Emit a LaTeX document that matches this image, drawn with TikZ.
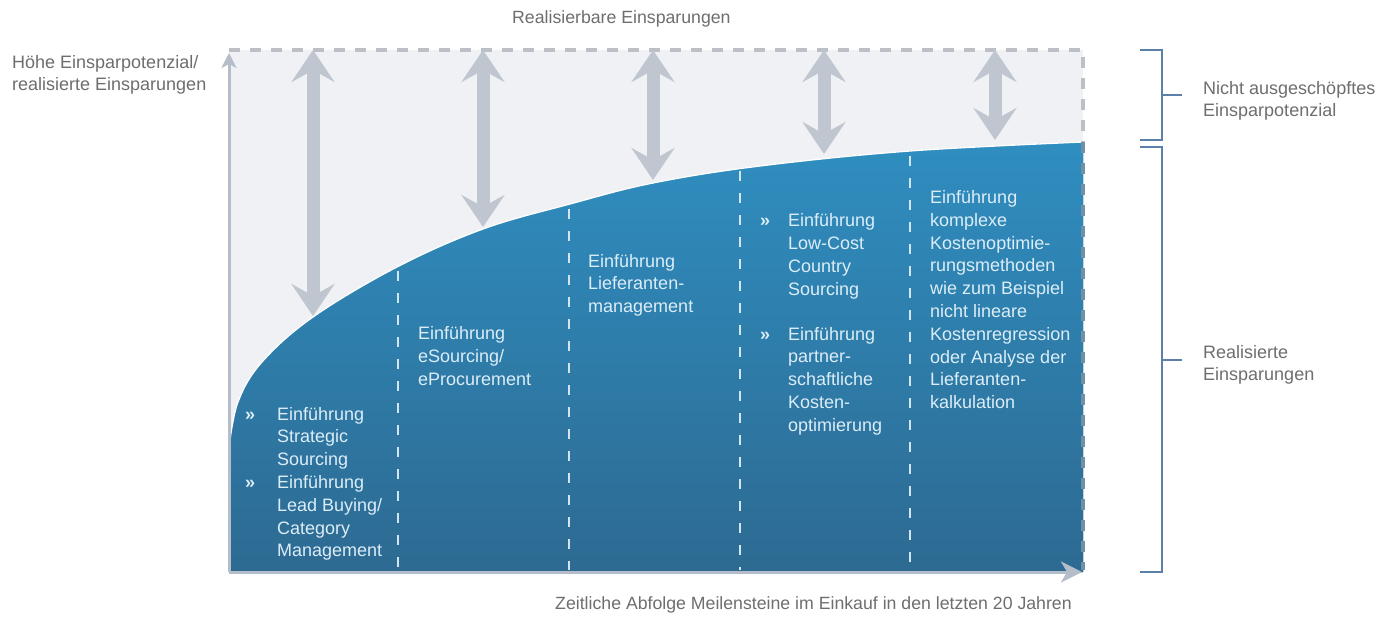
\documentclass[tikz,border=0pt]{standalone}
\usepackage{fontspec}
\setmainfont{Liberation Sans}
\usetikzlibrary{arrows.meta}

\definecolor{panel}{HTML}{EFF1F4}
\definecolor{frame}{HTML}{BCC0C6}
\definecolor{bigarr}{HTML}{C0C6D0}
\definecolor{axis}{HTML}{B4BDC9}
\definecolor{bluetop}{HTML}{2F8EC0}
\definecolor{bluebot}{HTML}{2D6A92}
\definecolor{sep}{HTML}{D2E5F1}
\definecolor{intext}{HTML}{DCEDF7}
\definecolor{label}{HTML}{6E6E6E}
\definecolor{brace}{HTML}{5B81AA}

% points of the savings curve (x to the right, y downwards, in px)
\def\curvepts{(229,448) (238,402) (262,362) (313,317) (397,267) (483,229)
  (570,204) (653,183) (760,166) (910,151) (1083,142)}

\begin{document}
\begin{tikzpicture}[x=1pt,y=-1pt,
  lbl/.style={font=\fontsize{18}{22}\selectfont, text=label, inner sep=0pt,
    align=left, anchor=north west},
  intxt/.style={font=\fontsize{18}{22.8}\selectfont, text=intext, inner sep=0pt,
    align=left, anchor=north west},
  bul/.style={font=\fontsize{18}{22.8}\selectfont\bfseries, text=intext,
    inner sep=0pt, anchor=base west},
  framedash/.style={draw=frame, line width=3.5pt, dash pattern=on 11pt off 10pt},
  sepline/.style={draw=sep, line width=2.5pt, dash pattern=on 10pt off 12pt},
  bigarrow/.style={draw=bigarr, line width=13pt,
    >={Stealth[length=32pt,width=43pt,inset=12pt]}, <->},
  axisarrow/.style={draw=axis, line width=3pt},
  bracket/.style={draw=brace, line width=1.6pt}
]
\useasboundingbox (0,0) rectangle (1387,618);
\fill[white] (0,0) rectangle (1387,618);

% light panel of the total potential
\fill[panel] (229,50) rectangle (1083,572);

% realised savings area under the curve
\fill[top color=bluetop, bottom color=bluebot]
  (229,572) -- plot[smooth, tension=0.6] coordinates {\curvepts}
  -- (1083,572) -- cycle;
\draw[white, line width=1.3pt] plot[smooth, tension=0.6] coordinates {\curvepts};

% milestone separators
\draw[sepline] (398,271) -- (398,570);
\draw[sepline] (569,209) -- (569,570);
\draw[sepline] (740,171) -- (740,570);
\draw[sepline] (910,156) -- (910,570);

% dashed frame of the achievable savings
\draw[framedash] (229,50) -- (1083,50) -- (1083,142);
\draw[framedash, draw=frame!45!bluebot] (1083,142) -- (1083,570);

% double arrows: gap between potential and realised savings
\coordinate (a1t) at (313,50);  \coordinate (a1b) at (313,316);
\coordinate (a2t) at (483,50);  \coordinate (a2b) at (483,227);
\coordinate (a3t) at (653,50);  \coordinate (a3b) at (653,180);
\coordinate (a4t) at (824,50);  \coordinate (a4b) at (824,154);
\coordinate (a5t) at (995,50);  \coordinate (a5b) at (995,140);
\draw[bigarrow] (a1t) -- (a1b);
\draw[bigarrow] (a2t) -- (a2b);
\draw[bigarrow] (a3t) -- (a3b);
\draw[bigarrow] (a4t) -- (a4b);
\draw[bigarrow] (a5t) -- (a5b);

% axes
\coordinate (O) at (229,572);
\coordinate (Ytop) at (229,53);
\coordinate (Xend) at (1082,572);
\draw[axisarrow, -{Stealth[length=15pt,width=15pt,inset=4pt]}] (O) -- (Ytop);
\draw[axisarrow, -{Stealth[length=21pt,width=21pt,inset=6pt]}] (O) -- (Xend);

% axis and area labels
\node[font=\fontsize{17.7}{22}\selectfont, text=label, inner sep=0pt, anchor=base west]
  (title) at (512,24) {Realisierbare Einsparungen};
\node[lbl] (ylabel) at (12,54.9) {Höhe Einsparpotenzial/\\realisierte Einsparungen};
\node[font=\fontsize{17.7}{22}\selectfont, text=label, inner sep=0pt, anchor=base west]
  (xlabel) at (555,609) {Zeitliche Abfolge Meilensteine im Einkauf in den letzten 20 Jahren};
\node[lbl] (gap) at (1203,80.9) {Nicht ausgeschöpftes\\Einsparpotenzial};
\node[lbl] (real) at (1203,344.9) {Realisierte\\Einsparungen};

% brackets on the right
\draw[bracket] (1140,50) -- (1162,50) -- (1162,140) -- (1140,140);
\draw[bracket] (1162,95) -- (1182,95);
\draw[bracket] (1140,147) -- (1162,147) -- (1162,572) -- (1140,572);
\draw[bracket] (1162,360) -- (1182,360);

% milestone texts
\node[bul] (b1) at (245,420) {»};
\node[intxt] (m1a) at (277,406.9) {Einführung\\Strategic\\Sourcing};
\node[bul] (b2) at (245,488.4) {»};
\node[intxt] (m1b) at (277,475.3) {Einführung\\Lead Buying/\\Category\\Management};

\node[intxt] (m2) at (418,326.2) {Einführung\\eSourcing/\\eProcurement};

\node[intxt] (m3) at (588,253.9) {Einführung\\Lieferanten-\\management};

\node[bul] (b3) at (760,226.7) {»};
\node[intxt] (m4a) at (788,213.6) {Einführung\\Low-Cost\\Country\\Sourcing};
\node[bul] (b4) at (760,340) {»};
\node[intxt] (m4b) at (788,326.9) {Einführung\\partner-\\schaftliche\\Kosten-\\optimierung};

\node[intxt] (m5) at (930,190.2) {Einführung\\komplexe\\Kostenoptimie-\\rungsmethoden\\wie zum Beispiel\\nicht lineare\\Kostenregression\\oder Analyse der\\Lieferanten-\\kalkulation};
\end{tikzpicture}
\end{document}
